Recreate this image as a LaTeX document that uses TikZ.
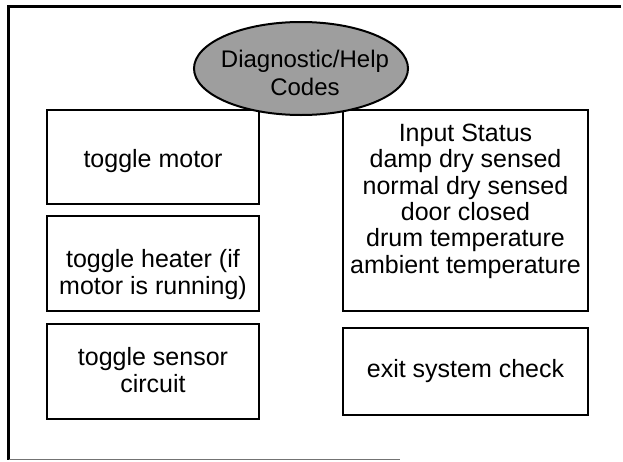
\documentclass[tikz,border=0pt]{standalone}
\usepackage{fontspec}
\setmainfont{Liberation Sans}
\usetikzlibrary{shapes.geometric}
\begin{document}
\begin{tikzpicture}[x=1pt,y=-1pt,
  frame/.style={draw=black, line width=2.8pt},
  box/.style={draw=black, line width=2.6pt, inner sep=0pt, minimum width=212pt},
  rbox/.style={draw=black, line width=2.6pt, inner sep=0pt, minimum width=245pt},
  lbl/.style={font=\fontsize{25}{26.3}\selectfont, align=center, inner sep=0pt, anchor=base},
  hub/.style={ellipse, draw=black, line width=2pt, fill=black!38, minimum width=214pt, minimum height=93pt, inner sep=0pt},
  hublbl/.style={font=\fontsize{24}{28}\selectfont, align=center, inner sep=0pt, anchor=base},
]
\useasboundingbox (0,0) rectangle (623,461);
\draw[frame] (8.5,459.5) -- (8.5,6.5) -- (621,6.5);
\draw[draw=black!55, line width=1.5pt] (8.5,459.5) -- (400,459.5);
% left column
\node[box, minimum height=94pt] (b1) at (153,157) {};
\node[lbl] (t1) at (153,167) {toggle motor};
\node[box, minimum height=95pt] (b2) at (153,263.5) {};
\node[lbl] (t2) at (153,294) {toggle heater (if\\motor is running)};
\node[box, minimum height=95pt] (b3) at (153,371.5) {};
\node[lbl] (t3) at (153,392) {toggle sensor\\circuit};
% right column
\node[rbox, minimum height=201pt] (b4) at (465.5,210.5) {};
\node[lbl] (t4) at (465.5,273) {Input Status\\damp dry sensed\\normal dry sensed\\door closed\\drum temperature\\ambient temperature};
\node[rbox, minimum height=87pt] (b5) at (465.5,371.5) {};
\node[lbl] (t5) at (465.5,377) {exit system check};
% hub
\node[hub] (hub) at (301,68.5) {};
\node[hublbl] (hubt) at (305,95) {Diagnostic/Help\\Codes};
\end{tikzpicture}
\end{document}
